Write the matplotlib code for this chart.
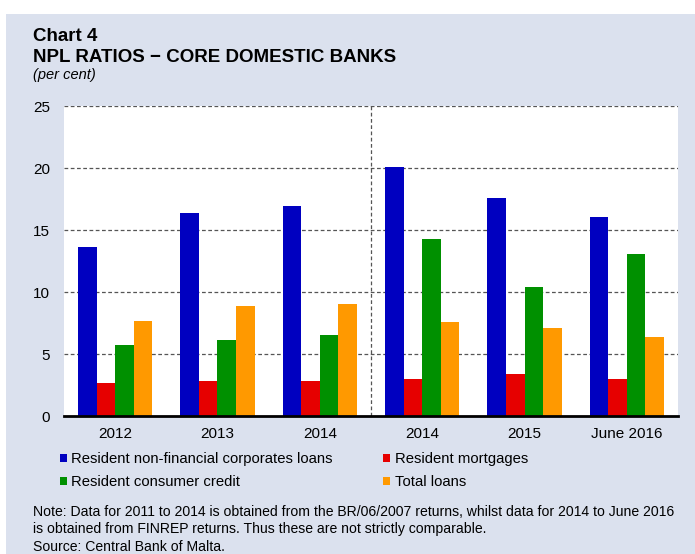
import matplotlib
matplotlib.use("Agg")
import matplotlib.pyplot as plt
from matplotlib.patches import Rectangle, Patch
import numpy as np

plt.rcParams['font.family'] = ['Liberation Sans', 'DejaVu Sans']

categories = ["2012", "2013", "2014", "2014", "2015", "June 2016"]
series_names = ["Resident non-financial corporates loans", "Resident mortgages",
                "Resident consumer credit", "Total loans"]
corporates = [13.6, 16.35, 16.9, 20.05, 17.6, 16.05]
mortgages = [2.65, 2.8, 2.85, 3.0, 3.35, 2.95]
consumer = [5.7, 6.15, 6.5, 14.25, 10.4, 13.1]
total = [7.7, 8.9, 9.0, 7.6, 7.1, 6.35]
yticks = [0, 5, 10, 15, 20, 25]

colors = ["#0000C0", "#E60000", "#009000", "#FF9900"]
bg = "#DBE1EE"

fig = plt.figure(figsize=(6.95, 5.54), dpi=100)
fig.patch.set_facecolor("white")
fig.add_artist(Rectangle((6/695, 0), 1 - 6/695, 1 - 14/554, transform=fig.transFigure,
                         facecolor=bg, edgecolor="none", zorder=-10))

ax = fig.add_axes([64/695, 138/554, 614/695, 310/554])
ax.set_facecolor("white")

x = np.arange(len(categories))
w = 0.1815
data = [corporates, mortgages, consumer, total]
for i, (vals, c) in enumerate(zip(data, colors)):
    ax.bar(x + (i - 1.5) * w, vals, width=w, color=c, edgecolor="none", zorder=3)

ax.set_xlim(-0.5, len(categories) - 0.5)
ax.set_ylim(0, 25)
ax.set_yticks(yticks)
ax.set_yticklabels([str(t) for t in yticks], fontsize=11)
ax.set_xticks(x)
ax.set_xticklabels(categories, fontsize=11)
ax.tick_params(axis="both", length=0)
ax.tick_params(axis="y", pad=10)
ax.tick_params(axis="x", pad=8)
for s in ["top", "right", "left"]:
    ax.spines[s].set_visible(False)
ax.spines["bottom"].set_linewidth(2)
ax.spines["bottom"].set_color("black")
ax.spines["bottom"].set_zorder(5)

for t in yticks[1:]:
    ax.axhline(t, color="#555555", lw=0.9, ls=(0, (3, 2)), zorder=1)
ax.axvline(2.5, color="#555555", lw=0.9, ls=(0, (3, 2)), zorder=1)

fig.text(33/695, 1 - 41/554, "Chart 4", fontsize=13.5, fontweight="bold", va="baseline")
fig.text(33/695, 1 - 62/554, "NPL RATIOS \u2212 CORE DOMESTIC BANKS", fontsize=13.5,
         fontweight="bold", va="baseline")
fig.text(33/695, 1 - 79/554, "(per cent)", fontsize=10.5, style="italic", va="baseline")

handles = [Patch(facecolor=c, edgecolor="none") for c in colors]
order = [0, 2, 1, 3]
leg = fig.legend([handles[i] for i in order], [series_names[i] for i in order],
                 ncol=2, loc="upper left", bbox_to_anchor=(60/695, 1 - 452/554),
                 frameon=False, fontsize=10.7, handlelength=0.47, handleheight=0.47,
                 handletextpad=0.3, columnspacing=3.4, labelspacing=0.6,
                 borderpad=0, borderaxespad=0)

note_lines = [
    "Note: Data for 2011 to 2014 is obtained from the BR/06/2007 returns, whilst data for 2014 to June 2016",
    "is obtained from FINREP returns. Thus these are not strictly comparable.",
    "Source: Central Bank of Malta.",
]
for line, yb in zip(note_lines, [516, 533.5, 551]):
    fig.text(33/695, 1 - yb/554, line, fontsize=10.1, va="baseline")

fig.savefig("out.png", dpi=100, facecolor=fig.get_facecolor())
